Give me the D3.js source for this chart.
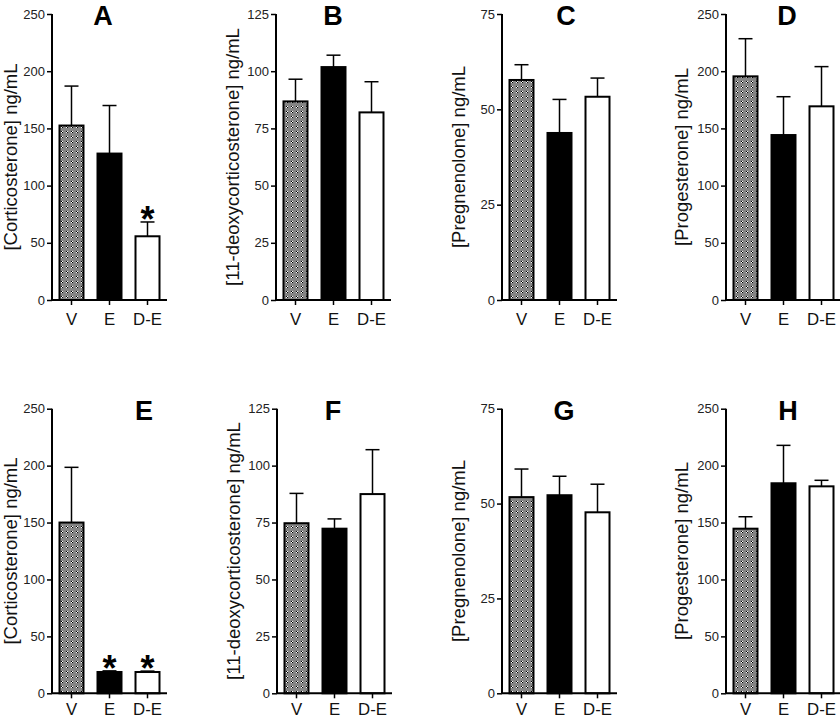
<!DOCTYPE html>
<html>
<head>
<meta charset="utf-8">
<script src="https://cdn.jsdelivr.net/npm/d3@7"></script>
<style>
  html, body { margin: 0; padding: 0; background: #fff; }
  svg { display: block; }
  text { font-family: "Liberation Sans", Arial, sans-serif; }
</style>
</head>
<body>
<script>
// ---------- data ----------
const categories = ["V", "E", "D-E"];
const panelLetters = ["A", "B", "C", "D", "E", "F", "G", "H"];
const yLabels = [
  "[Corticosterone] ng/mL", "[11-deoxycorticosterone] ng/mL", "[Pregnenolone] ng/mL", "[Progesterone] ng/mL",
  "[Corticosterone] ng/mL", "[11-deoxycorticosterone] ng/mL", "[Pregnenolone] ng/mL", "[Progesterone] ng/mL"
];
const yMax = [250, 125, 75, 250, 250, 125, 75, 250];
const yTickStep = [50, 25, 25, 50, 50, 25, 25, 50];

const meansA = [152.5, 128, 55.7];
const semA   = [34.5, 42, 12.5];
const meansB = [86.8, 101.8, 82];
const semB   = [9.7, 5.2, 13.4];
const meansC = [57.7, 43.8, 53.3];
const semC   = [4.0, 8.8, 4.9];
const meansD = [195.5, 144.2, 169.3];
const semD   = [32.9, 33.5, 34.7];
const meansE = [150, 18.7, 18.7];
const semE   = [48.5, 1.0, 0.8];
const meansF = [74.7, 72.3, 87.5];
const semF   = [13.1, 4.3, 19.5];
const meansG = [51.7, 52.2, 47.7];
const semG   = [7.4, 5.0, 7.4];
const meansH = [144.6, 184.5, 181.8];
const semH   = [10.5, 33.3, 5.3];

const significant = [
  [false, false, true], [false, false, false], [false, false, false], [false, false, false],
  [false, true, true], [false, false, false], [false, false, false], [false, false, false]
];
const allMeans = [meansA, meansB, meansC, meansD, meansE, meansF, meansG, meansH];
const allSem = [semA, semB, semC, semD, semE, semF, semG, semH];

// ---------- layout ----------
const W = 840, H = 718;
const axisXs = [52, 276, 502, 726, 52, 277, 502, 726];
const rowTop = [14, 408.7];
const rowBottom = [300, 693.3];
const rowTickPad = [8, 4.5];
const letterDX = [51, 57, 64, 61, 92, 56, 62, 62];
const labelDX = [-35, -37.5, -37, -38, -35, -37.5, -37, -38];
const plotW = 115;

const svg = d3.select("body").append("svg").attr("width", W).attr("height", H);
svg.append("rect").attr("width", W).attr("height", H).attr("fill", "#fff");

// checker pattern for V bars
const defs = svg.append("defs");
const pat = defs.append("pattern").attr("id", "checker").attr("patternUnits", "userSpaceOnUse")
  .attr("width", 5).attr("height", 5);
pat.append("rect").attr("width", 5).attr("height", 5).attr("fill", "#858585");
pat.append("rect").attr("x", 1).attr("y", 1).attr("width", 1).attr("height", 1).attr("fill", "#000");
pat.append("rect").attr("x", 2).attr("y", 2).attr("width", 1).attr("height", 1).attr("fill", "#000");
pat.append("rect").attr("x", 2).attr("y", 1).attr("width", 1).attr("height", 1).attr("fill", "#fff");
pat.append("rect").attr("x", 1).attr("y", 2).attr("width", 1).attr("height", 1).attr("fill", "#fff");

const fills = ["url(#checker)", "#000", "#fff"];

for (let p = 0; p < 8; p++) {
  const row = p < 4 ? 0 : 1;
  const ax = axisXs[p];
  const y0 = rowBottom[row], yT = rowTop[row];
  const y = d3.scaleLinear().domain([0, yMax[p]]).range([y0, yT]);
  const x = d3.scaleBand().domain(categories).range([ax, ax + plotW])
    .paddingInner(0.316).paddingOuter(0.171);
  const g = svg.append("g");
  const data = categories.map((c, i) => ({ c, m: allMeans[p][i], s: allSem[p][i], sig: significant[p][i], i }));

  // error bars (upper only)
  data.forEach(d => {
    const cx = x(d.c) + x.bandwidth() / 2;
    g.append("line").attr("x1", cx).attr("x2", cx).attr("y1", y(d.m)).attr("y2", y(d.m + d.s))
      .attr("stroke", "#000").attr("stroke-width", 1.5);
    g.append("line").attr("x1", cx - 7).attr("x2", cx + 7).attr("y1", y(d.m + d.s)).attr("y2", y(d.m + d.s))
      .attr("stroke", "#000").attr("stroke-width", 1.5);
  });

  // bars
  g.selectAll("rect.bar").data(data).enter().append("rect").attr("class", "bar")
    .attr("x", d => x(d.c) + 1)
    .attr("y", d => y(d.m))
    .attr("width", x.bandwidth() - 2)
    .attr("height", d => y0 - y(d.m))
    .attr("fill", d => fills[d.i])
    .attr("stroke", "#000").attr("stroke-width", 2);

  // stars
  data.filter(d => d.sig).forEach(d => {
    g.append("text").attr("x", x(d.c) + x.bandwidth() / 2).attr("y", y(d.m + d.s) + 10)
      .attr("text-anchor", "middle").attr("font-size", 36).attr("font-weight", "bold").text("*");
  });

  // y axis
  const yAxis = d3.axisLeft(y).tickValues(d3.range(0, yMax[p] + 0.001, yTickStep[p]))
    .tickSize(5).tickPadding(2).tickFormat(d3.format("d"));
  const ya = g.append("g").attr("transform", `translate(${ax},0)`).call(yAxis);
  ya.select(".domain").attr("stroke", "#000").attr("stroke-width", 2)
    .attr("d", `M0,${y0}V${yT}`);
  ya.selectAll(".tick line").attr("stroke", "#000").attr("stroke-width", 1.5);
  ya.selectAll(".tick text").attr("font-size", 13).attr("fill", "#222")
    .attr("font-family", "'Liberation Sans', Arial, sans-serif");

  // x axis
  const xAxis = d3.axisBottom(x).tickSize(5).tickPadding(rowTickPad[row]);
  const xa = g.append("g").attr("transform", `translate(0,${y0})`).call(xAxis);
  xa.select(".domain").attr("stroke", "#000").attr("stroke-width", 2)
    .attr("d", `M${ax},0H${ax + plotW}`);
  xa.selectAll(".tick line").attr("stroke", "#000").attr("stroke-width", 1.5);
  xa.selectAll(".tick text").attr("font-size", 16.8).attr("fill", "#111")
    .attr("font-family", "'Liberation Sans', Arial, sans-serif");

  // y label
  g.append("text")
    .attr("transform", `translate(${ax + labelDX[p]},${(y0 + yT) / 2}) rotate(-90)`)
    .attr("text-anchor", "middle").attr("font-size", 18.5).attr("fill", "#111")
    .text(yLabels[p]);

  // panel letter
  g.append("text").attr("x", ax + letterDX[p]).attr("y", yT + 11)
    .attr("text-anchor", "middle").attr("font-size", 27).attr("font-weight", "bold")
    .attr("font-family", "'Liberation Sans', Arial, sans-serif")
    .text(panelLetters[p]);
}
</script>
</body>
</html>
